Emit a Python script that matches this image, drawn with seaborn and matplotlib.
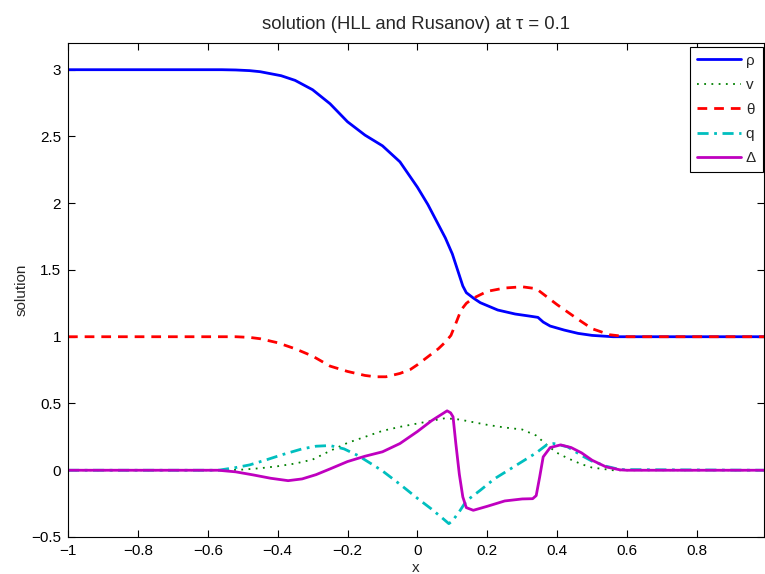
import matplotlib
matplotlib.use("Agg")
import matplotlib.pyplot as plt
import seaborn as sns
import pandas as pd

# ---------------- data ----------------
rho_x = [-1.0, -0.56, -0.52, -0.48, -0.45, -0.42, -0.39, -0.35, -0.3, -0.25, -0.2,
         -0.15, -0.1, -0.05, 0.0, 0.03, 0.06, 0.08, 0.1, 0.12, 0.13, 0.14, 0.16, 0.18,
         0.23, 0.28, 0.32, 0.345, 0.36, 0.38, 0.42, 0.46, 0.5, 0.56, 0.995]
rho_y = [3.0, 3.0, 2.998, 2.993, 2.985, 2.97, 2.955, 2.92, 2.85, 2.745, 2.61,
         2.51, 2.43, 2.31, 2.12, 1.99, 1.84, 1.74, 1.62, 1.46, 1.38, 1.33, 1.29, 1.255,
         1.20, 1.17, 1.155, 1.145, 1.11, 1.08, 1.05, 1.025, 1.01, 1.0, 1.0]

v_x = [-1.0, -0.55, -0.5, -0.45, -0.4, -0.35, -0.3, -0.25, -0.2, -0.15, -0.1, -0.05,
       0.0, 0.05, 0.08, 0.12, 0.16, 0.2, 0.25, 0.3, 0.34, 0.37, 0.4, 0.43, 0.47, 0.5,
       0.56, 0.995]
v_y = [0.0, 0.0, 0.005, 0.015, 0.03, 0.05, 0.08, 0.145, 0.205, 0.25, 0.295, 0.325,
       0.35, 0.375, 0.39, 0.38, 0.36, 0.34, 0.32, 0.305, 0.26, 0.19, 0.13, 0.09, 0.045,
       0.02, 0.0, 0.0]

theta_x = [-1.0, -0.52, -0.48, -0.45, -0.4, -0.35, -0.3, -0.25, -0.2, -0.15, -0.12,
           -0.09, -0.05, -0.02, 0.0, 0.03, 0.06, 0.08, 0.096, 0.11, 0.125, 0.14, 0.158,
           0.2, 0.25, 0.3, 0.34, 0.37, 0.4, 0.46, 0.5, 0.55, 0.6, 0.995]
theta_y = [1.0, 1.0, 0.995, 0.985, 0.955, 0.91, 0.855, 0.78, 0.74, 0.71, 0.70,
           0.70, 0.725, 0.755, 0.79, 0.85, 0.91, 0.96, 1.01, 1.10, 1.20, 1.25, 1.286,
           1.34, 1.365, 1.374, 1.36, 1.30, 1.24, 1.13, 1.06, 1.015, 1.0, 1.0]

q_x = [-1.0, -0.57, -0.52, -0.48, -0.43, -0.385, -0.33, -0.29, -0.25, -0.21, -0.17,
       -0.13, -0.1, -0.05, 0.0, 0.04, 0.07, 0.09, 0.1, 0.12, 0.14, 0.18, 0.22, 0.26,
       0.3, 0.34, 0.37, 0.39, 0.43, 0.47, 0.5, 0.54, 0.58, 0.995]
q_y = [0.0, 0.0, 0.02, 0.04, 0.08, 0.118, 0.16, 0.18, 0.185, 0.16, 0.11,
       0.045, -0.005, -0.105, -0.21, -0.29, -0.355, -0.40, -0.38, -0.31, -0.23, -0.15,
       -0.065, 0.0, 0.065, 0.13, 0.19, 0.20, 0.175, 0.11, 0.068, 0.03, 0.005, 0.0]

delta_x = [-1.0, -0.57, -0.52, -0.47, -0.42, -0.37, -0.33, -0.29, -0.25, -0.2, -0.15,
           -0.1, -0.05, 0.0, 0.04, 0.07, 0.085, 0.095, 0.102, 0.11, 0.12, 0.13, 0.14,
           0.16, 0.2, 0.25, 0.3, 0.33, 0.34, 0.35, 0.36, 0.38, 0.41, 0.44, 0.47, 0.5,
           0.54, 0.58, 0.6, 0.995]
delta_y = [0.0, 0.0, -0.012, -0.035, -0.06, -0.078, -0.065, -0.033, 0.01, 0.065, 0.105,
           0.138, 0.2, 0.29, 0.37, 0.42, 0.445, 0.43, 0.40, 0.2, -0.03, -0.2, -0.28,
           -0.30, -0.27, -0.23, -0.215, -0.213, -0.19, -0.05, 0.10, 0.17, 0.19, 0.17, 0.13,
           0.075, 0.025, 0.003, 0.0, 0.0]

series_labels = ["ρ", "v", "θ", "q", "Δ"]
x_ticks = [-1, -0.8, -0.6, -0.4, -0.2, 0, 0.2, 0.4, 0.6, 0.8]
x_tick_labels = ["\u22121", "\u22120.8", "\u22120.6", "\u22120.4", "\u22120.2", "0",
                 "0.2", "0.4", "0.6", "0.8"]
y_ticks = [-0.5, 0, 0.5, 1, 1.5, 2, 2.5, 3]
y_tick_labels = ["\u22120.5", "0", "0.5", "1", "1.5", "2", "2.5", "3"]

# ---------------- styling ----------------
sns.set_style("ticks", {"xtick.direction": "in", "ytick.direction": "in"})
plt.rcParams["font.family"] = ["Liberation Sans", "DejaVu Sans"]
plt.rcParams["axes.linewidth"] = 0.8

fig = plt.figure(figsize=(7.65, 5.74), dpi=100)
ax = fig.add_axes([68 / 765, 37 / 574, 696 / 765, 494 / 574])

styles = [
    dict(color=(0, 0, 1), linestyle="-", linewidth=2.0),
    dict(color=(0, 0.5, 0), linestyle=(0, (1, 3)), linewidth=1.3),
    dict(color=(1, 0, 0), linestyle=(0, (3.5, 2.5)), linewidth=2.0),
    dict(color=(0, 0.75, 0.75), linestyle=(0, (4, 2, 1, 2)), linewidth=2.0),
    dict(color=(0.75, 0, 0.75), linestyle="-", linewidth=2.0),
]
xs = [rho_x, v_x, theta_x, q_x, delta_x]
ys = [rho_y, v_y, theta_y, q_y, delta_y]

for x, y, lab, st in zip(xs, ys, series_labels, styles):
    df = pd.DataFrame({"x": x, "y": y})
    sns.lineplot(data=df, x="x", y="y", ax=ax, label=lab, estimator=None, sort=False, **st)

ax.set_xlim(-1, 0.992)
ax.set_ylim(-0.5, 3.2)
ax.set_xticks(x_ticks)
ax.set_xticklabels(x_tick_labels)
ax.set_yticks(y_ticks)
ax.set_yticklabels(y_tick_labels)
ax.tick_params(axis="both", which="both", direction="in", length=5, width=0.8,
               top=True, right=True, labelsize=11, pad=5, colors="black")
for s in ax.spines.values():
    s.set_visible(True)
    s.set_color("black")
ax.set_xlabel("x", fontsize=11, labelpad=2)
ax.set_ylabel("solution", fontsize=11, labelpad=2)
ax.set_title("solution (HLL and Rusanov) at \u03c4 = 0.1", fontsize=13.3, pad=10)

leg = ax.legend(loc="upper right", bbox_to_anchor=(0.9985, 0.992), fontsize=11,
                handlelength=2.9, labelspacing=0.68, borderaxespad=0.0,
                fancybox=False, framealpha=1, edgecolor="black",
                handletextpad=0.3, borderpad=0.45)
leg.get_frame().set_linewidth(0.8)

fig.savefig("out.png", dpi=100)
